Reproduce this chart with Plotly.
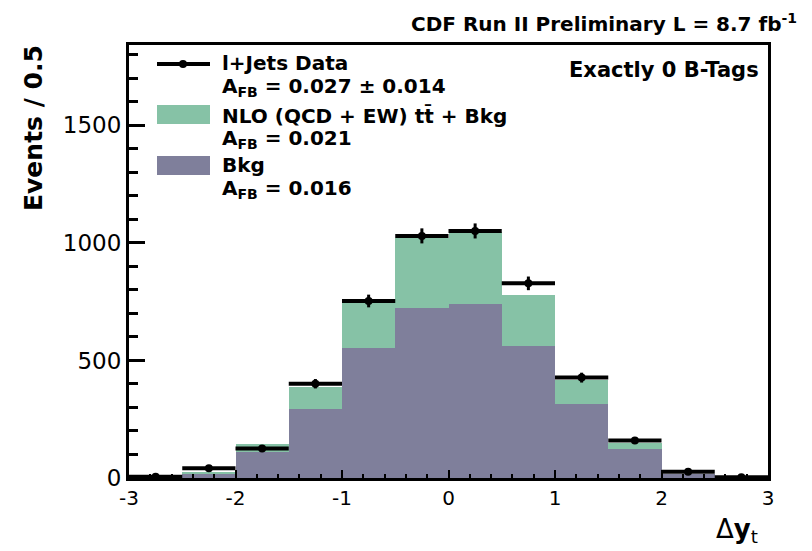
import plotly.graph_objects as go

# Delta y_t binning: 12 bins of width 0.5 from -3 to 3
bin_centers = [-2.75, -2.25, -1.75, -1.25, -0.75, -0.25, 0.25, 0.75, 1.25, 1.75, 2.25, 2.75]
bin_width = 0.5

# l+jets data (events per bin) and statistical uncertainties
data_counts = [5, 41, 126, 401, 753, 1030, 1051, 828, 427, 159, 27, 3]
data_errors = [2, 6, 11, 20, 27, 32, 32, 29, 21, 13, 5, 2]

# NLO (QCD + EW) ttbar + background (stacked total) and background only
nlo_plus_bkg = [4, 27, 143, 389, 743, 1023, 1045, 780, 417, 148, 17, 2]
bkg_only = [3, 17, 112, 294, 553, 725, 739, 562, 316, 122, 15, 2]

# axis tick positions and labels
x_ticks = [-3, -2, -1, 0, 1, 2, 3]
x_tick_labels = ["-3", "-2", "-1", "0", "1", "2", "3"]
y_ticks = [0, 500, 1000, 1500]

GREEN = "#86c2a6"
PURPLE = "#7f7f9b"
FONT = "DejaVu Sans"

# plot area in pixels
W, H = 812, 551
L, R, T, B = 129, 768, 45, 478
PW, PH = R - L, B - T


def px(xp):
    return (xp - L) / PW


def py(yp):
    return (B - yp) / PH


fig = go.Figure()
fig.add_trace(go.Bar(x=bin_centers, y=nlo_plus_bkg, width=bin_width,
                     marker=dict(color=GREEN, line=dict(width=0)), showlegend=False))
fig.add_trace(go.Bar(x=bin_centers, y=bkg_only, width=bin_width,
                     marker=dict(color=PURPLE, line=dict(width=0)), showlegend=False))
fig.add_trace(go.Scatter(
    x=bin_centers, y=data_counts, mode="markers",
    marker=dict(color="black", size=8),
    error_x=dict(type="constant", value=bin_width / 2, width=0, thickness=4, color="black"),
    error_y=dict(type="data", array=data_errors, width=0, thickness=3, color="black"),
    showlegend=False))

fig.update_layout(
    template="none",
    width=W, height=H,
    margin=dict(l=L, r=W - R, t=T, b=H - B, autoexpand=False),
    barmode="overlay", bargap=0,
    plot_bgcolor="white", paper_bgcolor="white",
    showlegend=False,
)
fig.update_xaxes(
    range=[-3, 3], automargin=False, showgrid=False, zeroline=False,
    showline=True, linewidth=3, linecolor="black", mirror=True,
    tickmode="array", tickvals=x_ticks, ticktext=x_tick_labels,
    ticks="inside", ticklen=8, tickwidth=2, tickcolor="black",
    minor=dict(ticks="inside", ticklen=4, tickwidth=2, tickcolor="black",
               dtick=0.2, showgrid=False),
    tickfont=dict(size=20, family=FONT, color="black"),
)
fig.update_yaxes(
    range=[0, 1842], automargin=False, showgrid=False, zeroline=False,
    showline=True, linewidth=3, linecolor="black", mirror=True,
    tickmode="array", tickvals=y_ticks,
    ticks="inside", ticklen=16, tickwidth=3, tickcolor="black",
    minor=dict(ticks="inside", ticklen=9, tickwidth=3, tickcolor="black",
               dtick=100, showgrid=False),
    tickfont=dict(size=23, family=FONT, color="black"),
)

text_font = dict(family=FONT, size=20, color="black")


def note(text, x, y, xanchor="left", yanchor="middle", font=text_font, angle=0):
    fig.add_annotation(text=text, x=px(x), y=py(y), xref="paper", yref="paper",
                       xanchor=xanchor, yanchor=yanchor, showarrow=False,
                       font=font, textangle=angle)


# header and category label
note("<b>CDF Run II Preliminary L = 8.7 fb<sup>-1</sup></b>", 799, 23, xanchor="right")
note("<b>Exactly 0 B-Tags</b>", 761, 70, xanchor="right",
     font=dict(family=FONT, size=21, color="black"))

# axis titles
note("<b>Events / 0.5</b>", 33, 43, xanchor="center", yanchor="top",
     font=dict(family=FONT, size=25, color="black"), angle=-90)
note("Δ<b>y</b><sub>t</sub>", 760, 530, xanchor="right",
     font=dict(family=FONT, size=26, color="black"))

# legend
fig.add_shape(type="line", xref="paper", yref="paper",
              x0=px(157), x1=px(210), y0=py(64), y1=py(64),
              line=dict(color="black", width=4))
fig.add_shape(type="circle", xref="paper", yref="paper",
              x0=px(179), x1=px(187), y0=py(60), y1=py(68),
              fillcolor="black", line=dict(width=0))
fig.add_shape(type="rect", xref="paper", yref="paper",
              x0=px(157), x1=px(210), y0=py(124), y1=py(105),
              fillcolor=GREEN, line=dict(width=0))
fig.add_shape(type="rect", xref="paper", yref="paper",
              x0=px(157), x1=px(210), y0=py(175), y1=py(156),
              fillcolor=PURPLE, line=dict(width=0))

note("<b>l+Jets Data</b>", 220, 63)
note("<b>A<sub>FB</sub> = 0.027 ± 0.014</b>", 220, 87)
note("<b>NLO (QCD + EW) tt̄ + Bkg</b>", 220, 116)
note("<b>A<sub>FB</sub> = 0.021</b>", 220, 139)
note("<b>Bkg</b>", 220, 165)
note("<b>A<sub>FB</sub> = 0.016</b>", 220, 189)

fig.write_html("out.html")
